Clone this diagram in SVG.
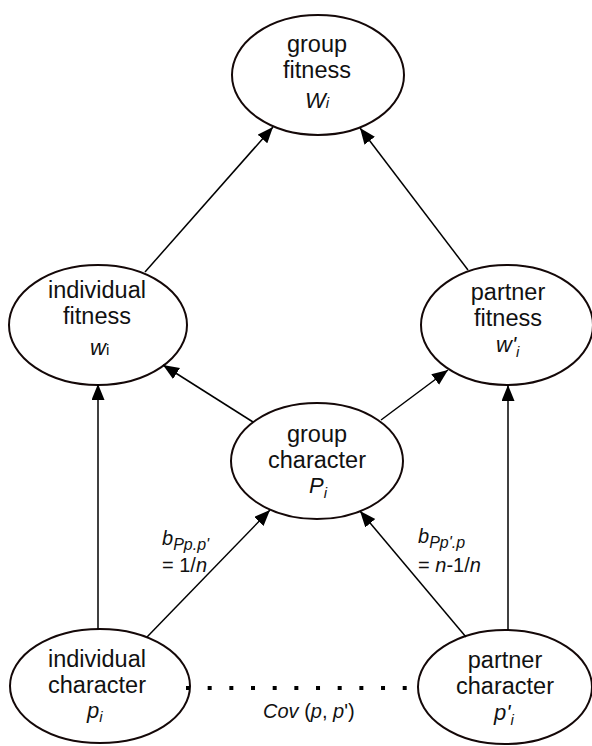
<svg xmlns="http://www.w3.org/2000/svg" width="592" height="746" viewBox="0 0 592 746">
  <style>
    .node ellipse { fill: #ffffff; stroke: #140808; stroke-width: 2; }
    .lbl { font-family: "Liberation Sans", Arial, sans-serif; font-size: 23.5px; fill: #111; text-anchor: middle; }
    .var { font-family: "Liberation Sans", Arial, sans-serif; font-size: 22px; fill: #111; font-style: italic; }
    .sub { font-size: 15px; }
    .note { font-family: "Liberation Sans", Arial, sans-serif; font-size: 20px; fill: #111; }
    .edge { stroke: #000; stroke-width: 1.5; fill: none; marker-end: url(#arrow); }
    .dots { stroke: #000; stroke-width: 4; stroke-dasharray: 4 17.67; fill: none; }
  </style>
  <defs>
    <marker id="arrow" markerUnits="userSpaceOnUse" markerWidth="17" markerHeight="14" refX="16" refY="6.5" orient="auto">
      <path d="M0,0 L16,6.5 L0,13 Z" fill="#000"/>
    </marker>
  </defs>

  <rect width="592" height="746" fill="#ffffff"/>

  <!-- nodes -->
  <g id="group-fitness" class="node">
    <ellipse cx="318" cy="75" rx="86" ry="60"/>
    <text class="lbl" x="317" y="52">group</text>
    <text class="lbl" x="317" y="78">fitness</text>
    <text class="var" x="305" y="108" font-size="23">W<tspan class="sub">i</tspan></text>
  </g>

  <g id="individual-fitness" class="node">
    <ellipse cx="98" cy="325" rx="89" ry="60"/>
    <text class="lbl" x="97" y="298">individual</text>
    <text class="lbl" x="97" y="324">fitness</text>
    <text class="var" x="90" y="355">w<tspan class="sub" font-style="normal">i</tspan></text>
  </g>

  <g id="partner-fitness" class="node">
    <ellipse cx="507" cy="325" rx="86" ry="60"/>
    <text class="lbl" x="508" y="300">partner</text>
    <text class="lbl" x="508" y="326">fitness</text>
    <text class="var" x="496" y="352">w'<tspan class="sub" dy="5">i</tspan></text>
  </g>

  <g id="group-character" class="node">
    <ellipse cx="317" cy="461" rx="86" ry="58"/>
    <text class="lbl" x="317" y="442">group</text>
    <text class="lbl" x="317" y="468">character</text>
    <text class="var" x="309" y="493">P<tspan class="sub" dy="5">i</tspan></text>
  </g>

  <g id="individual-character" class="node">
    <ellipse cx="100" cy="686" rx="90" ry="57"/>
    <text class="lbl" x="97" y="667">individual</text>
    <text class="lbl" x="97" y="693">character</text>
    <text class="var" x="87" y="718">p<tspan class="sub" dy="4">i</tspan></text>
  </g>

  <g id="partner-character" class="node">
    <ellipse cx="505" cy="687" rx="87" ry="57"/>
    <text class="lbl" x="505" y="668">partner</text>
    <text class="lbl" x="505" y="694">character</text>
    <text class="var" x="494" y="720">p'<tspan class="sub" dy="5">i</tspan></text>
  </g>

  <!-- connectors -->
  <g id="connectors">
    <line class="edge" x1="145" y1="272" x2="273" y2="127"/>
    <line class="edge" x1="468" y1="270" x2="360" y2="128"/>
    <line class="edge" x1="253" y1="422" x2="163" y2="365"/>
    <line class="edge" x1="381" y1="420" x2="448" y2="370"/>
    <line class="edge" x1="98" y1="629" x2="98" y2="384"/>
    <line class="edge" x1="508" y1="630" x2="508" y2="385"/>
    <line class="edge" x1="147" y1="637" x2="270" y2="510"/>
    <line class="edge" x1="466" y1="637" x2="360" y2="511"/>
    <line class="dots" x1="186" y1="688" x2="410" y2="688"/>
  </g>

  <!-- path coefficients and covariance -->
  <g id="edge-labels">
    <text class="note" x="162" y="545"><tspan font-style="italic">b</tspan><tspan font-style="italic" font-size="16" dy="5">Pp.p'</tspan></text>
    <text class="note" x="162" y="572">= 1/<tspan font-style="italic">n</tspan></text>
    <text class="note" x="418" y="543"><tspan font-style="italic">b</tspan><tspan font-style="italic" font-size="16" dy="5">Pp'.p</tspan></text>
    <text class="note" x="418" y="572">= <tspan font-style="italic">n</tspan>-1/<tspan font-style="italic">n</tspan></text>
    <text class="note" x="263" y="718"><tspan font-style="italic">Cov</tspan> (<tspan font-style="italic">p</tspan>, <tspan font-style="italic">p</tspan>')</text>
  </g>
</svg>
